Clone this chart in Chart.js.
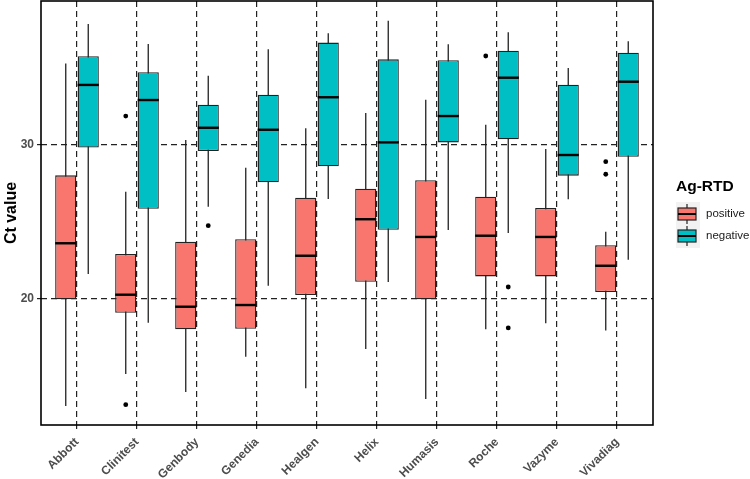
<!DOCTYPE html>
<html>
<head>
<meta charset="utf-8">
<script src="https://cdn.jsdelivr.net/npm/chart.js@4"></script>
<style>
  body { margin: 0; background: #fff; }
  #wrap { width: 750px; height: 479px; }
</style>
</head>
<body>
<div id="wrap"><canvas id="chart"></canvas></div>
<script>
const categories = ['Abbott', 'Clinitest', 'Genbody', 'Genedia', 'Healgen', 'Helix', 'Humasis', 'Roche', 'Vazyme', 'Vivadiag'];

// positive group: whisker ends, quartiles, median, outliers
const posLow  = [13.05, 15.13, 13.96, 16.25, 14.2, 16.75, 13.51, 18.03, 18.42, 17.95];
const posQ1   = [19.98, 19.11, 18.03, 18.07, 20.26, 21.12, 19.98, 21.47, 21.47, 20.45];
const posMed  = [23.62, 20.28, 19.5, 19.61, 22.81, 25.18, 24.03, 24.11, 24.03, 22.16];
const posQ3   = [28.03, 22.92, 23.72, 23.88, 26.58, 27.16, 27.71, 26.64, 25.91, 23.49];
const posHigh = [35.3, 26.97, 30.32, 28.53, 31.08, 32.08, 32.94, 31.32, 29.74, 24.37];
const posOut  = [[], [31.88, 13.14], [], [], [], [], [], [35.78], [], [28.92, 28.1]];

// negative group
const negLow  = [21.62, 18.46, 25.99, 20.86, 26.49, 21.1, 24.48, 24.29, 26.47, 22.55];
const negQ1   = [29.83, 25.86, 29.61, 27.58, 28.62, 24.5, 30.17, 30.37, 28.01, 29.24];
const negMed  = [33.9, 32.92, 31.12, 30.99, 33.1, 30.17, 31.88, 34.37, 29.35, 34.11];
const negQ3   = [35.76, 34.72, 32.62, 33.27, 36.65, 35.56, 35.5, 36.12, 33.92, 35.99];
const negHigh = [37.86, 36.56, 34.5, 36.21, 37.25, 38.07, 36.54, 37.32, 35, 36.73];
const negOut  = [[], [], [24.76], [], [], [], [], [20.78, 18.12], [], []];

const yTicks = [20, 30];
const groupNames = ['positive', 'negative'];
const groupColors = ['#F8766D', '#00BFC4'];

const stats = [
  { low: posLow, med: posMed, high: posHigh, out: posOut },
  { low: negLow, med: negMed, high: negHigh, out: negOut }
];

Chart.defaults.font.family = "'Liberation Sans', Arial, sans-serif";

// whiskers behind the boxes, medians / outliers / frame / legend on top
const boxParts = {
  id: 'boxParts',
  beforeDatasetsDraw(chart) {
    const ctx = chart.ctx, y = chart.scales.y;
    ctx.save();
    ctx.strokeStyle = '#222';
    ctx.lineWidth = 1.3;
    stats.forEach((s, d) => {
      chart.getDatasetMeta(d).data.forEach((el, i) => {
        ctx.beginPath();
        ctx.moveTo(el.x, y.getPixelForValue(s.low[i]));
        ctx.lineTo(el.x, y.getPixelForValue(s.high[i]));
        ctx.stroke();
      });
    });
    ctx.restore();
  },
  afterDatasetsDraw(chart) {
    const ctx = chart.ctx, y = chart.scales.y, a = chart.chartArea;
    ctx.save();
    stats.forEach((s, d) => {
      chart.getDatasetMeta(d).data.forEach((el, i) => {
        const py = y.getPixelForValue(s.med[i]);
        ctx.strokeStyle = '#000';
        ctx.lineWidth = 2.4;
        ctx.beginPath();
        ctx.moveTo(el.x - el.width / 2, py);
        ctx.lineTo(el.x + el.width / 2, py);
        ctx.stroke();
        ctx.fillStyle = '#000';
        s.out[i].forEach(v => {
          ctx.beginPath();
          ctx.arc(el.x, y.getPixelForValue(v), 2.4, 0, Math.PI * 2);
          ctx.fill();
        });
      });
    });
    // panel border
    ctx.strokeStyle = '#000';
    ctx.lineWidth = 1.6;
    ctx.strokeRect(a.left, a.top, a.right - a.left, a.bottom - a.top);
    ctx.restore();
  },
  afterDraw(chart) {
    const ctx = chart.ctx;
    ctx.save();
    ctx.fillStyle = '#000';
    ctx.textBaseline = 'middle';
    ctx.font = "bold 15.5px 'Liberation Sans', Arial, sans-serif";
    ctx.fillText('Ag-RTD', 676, 187);
    ctx.fillStyle = '#f2f2f2';
    ctx.fillRect(676, 202, 24, 46);
    groupNames.forEach((name, k) => {
      const cy = 214 + k * 22;
      ctx.strokeStyle = '#222';
      ctx.lineWidth = 1.2;
      ctx.beginPath();
      ctx.moveTo(687, cy - 10);
      ctx.lineTo(687, cy + 10);
      ctx.stroke();
      ctx.fillStyle = groupColors[k];
      ctx.fillRect(678, cy - 6, 18, 12);
      ctx.strokeRect(678, cy - 6, 18, 12);
      ctx.strokeStyle = '#000';
      ctx.lineWidth = 2;
      ctx.beginPath();
      ctx.moveTo(678, cy);
      ctx.lineTo(696, cy);
      ctx.stroke();
      ctx.fillStyle = '#1a1a1a';
      ctx.font = "11.5px 'Liberation Sans', Arial, sans-serif";
      ctx.fillText(name, 706, cy);
    });
    ctx.restore();
  }
};

new Chart(document.getElementById('chart'), {
  type: 'bar',
  data: {
    labels: categories,
    datasets: [
      {
        label: groupNames[0],
        data: posQ1.map((q, i) => [q, posQ3[i]]),
        backgroundColor: groupColors[0],
        borderColor: '#222',
        borderWidth: 1.3,
        borderSkipped: false
      },
      {
        label: groupNames[1],
        data: negQ1.map((q, i) => [q, negQ3[i]]),
        backgroundColor: groupColors[1],
        borderColor: '#222',
        borderWidth: 1.3,
        borderSkipped: false
      }
    ]
  },
  options: {
    responsive: true,
    maintainAspectRatio: false,
    animation: false,
    categoryPercentage: 0.75,
    barPercentage: 0.94,
    layout: { padding: { top: 1, right: 97, left: 0, bottom: 0 } },
    plugins: {
      legend: { display: false },
      tooltip: { enabled: false }
    },
    scales: {
      x: {
        offset: true,
        afterBuildTicks: s => { s._startValue = -0.6; s._valueRange = 10.2; },
        afterFit: s => { s.height = 54; s.paddingLeft = 0; s.paddingRight = 0; },
        grid: { offset: false, color: '#222', lineWidth: 1.2, tickLength: 4 },
        border: { display: false, dash: [6, 4] },
        ticks: {
          autoSkip: false,
          minRotation: 45,
          maxRotation: 45,
          padding: 6,
          color: '#4d4d4d',
          font: { size: 12, weight: 'bold' }
        }
      },
      y: {
        min: 11.82,
        max: 39.35,
        afterBuildTicks: s => { s.ticks = yTicks.map(v => ({ value: v })); },
        afterFit: s => { s.width = 41; s.paddingTop = 0; s.paddingBottom = 0; },
        grid: { color: '#222', lineWidth: 1.2, tickLength: 4 },
        border: { display: false, dash: [6, 4] },
        title: {
          display: true,
          text: 'Ct value',
          color: '#000',
          padding: { top: 2, bottom: 0 },
          font: { size: 16, weight: 'bold' }
        },
        ticks: {
          padding: 3,
          color: '#4d4d4d',
          font: { size: 12, weight: 'bold' }
        }
      }
    }
  },
  plugins: [boxParts]
});
</script>
</body>
</html>
